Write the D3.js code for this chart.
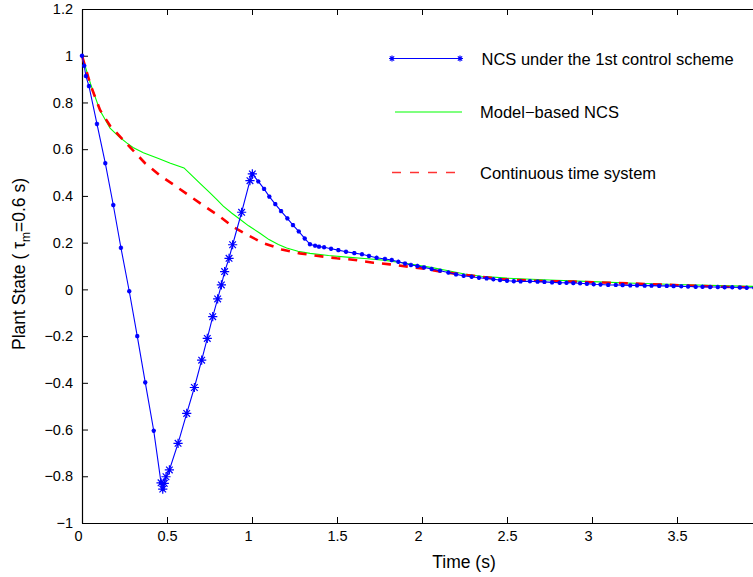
<!DOCTYPE html>
<html>
<head>
<meta charset="utf-8">
<script src="https://cdn.jsdelivr.net/npm/d3@7"></script>
<style>
  html, body { margin: 0; padding: 0; background: #fff; }
  svg { display: block; font-family: "Liberation Sans", Arial, Helvetica, sans-serif; }
</style>
</head>
<body>
<svg id="chart" width="753" height="577"></svg>
<script>
// Axis ticks
const xTicks = [0, 0.5, 1, 1.5, 2, 2.5, 3, 3.5, 4];
const xTickLabels = ["0", "0.5", "1", "1.5", "2", "2.5", "3", "3.5", "4"];
const yTicks = [-1, -0.8, -0.6, -0.4, -0.2, 0, 0.2, 0.4, 0.6, 0.8, 1, 1.2];
const yTickLabels = ["\u22121", "\u22120.8", "\u22120.6", "\u22120.4", "\u22120.2", "0", "0.2", "0.4", "0.6", "0.8", "1", "1.2"];

// NCS under the 1st control scheme: [time, state]
// falling part (plant runs open loop while waiting for the delayed control)
const ncsFall = [
  [0, 1.0], [0.013, 0.957], [0.023, 0.913], [0.041, 0.870], [0.088, 0.708],
  [0.137, 0.540], [0.184, 0.361], [0.229, 0.178], [0.278, -0.008], [0.325, -0.200],
  [0.372, -0.398], [0.422, -0.605], [0.465, -0.828], [0.475, -0.855]
];
// recovering part
const ncsRise = [
  [0.465, -0.828], [0.475, -0.855], [0.484, -0.830], [0.494, -0.802], [0.514, -0.773],
  [0.565, -0.659], [0.616, -0.531], [0.661, -0.420], [0.704, -0.303], [0.737, -0.210],
  [0.769, -0.117], [0.798, -0.041], [0.820, 0.019], [0.839, 0.076], [0.865, 0.133],
  [0.886, 0.191], [0.939, 0.330], [0.988, 0.465], [1.002, 0.494]
];
// settling part
const ncsDecay = [
  [1.002, 0.494], [1.037, 0.462], [1.071, 0.430], [1.102, 0.397], [1.137, 0.365],
  [1.171, 0.335], [1.208, 0.304], [1.241, 0.275], [1.275, 0.248], [1.310, 0.218],
  [1.341, 0.193], [1.371, 0.187], [1.394, 0.183], [1.424, 0.180], [1.465, 0.174],
  [1.508, 0.168], [1.553, 0.161], [1.602, 0.155], [1.647, 0.150], [1.688, 0.143],
  [1.733, 0.135], [1.782, 0.130], [1.822, 0.126], [1.861, 0.118], [1.900, 0.111],
  [1.935, 0.104], [1.973, 0.100], [2.012, 0.094], [2.057, 0.087], [2.106, 0.080],
  [2.155, 0.072], [2.200, 0.064], [2.245, 0.058], [2.292, 0.054], [2.335, 0.050],
  [2.380, 0.047], [2.420, 0.043], [2.459, 0.040], [2.500, 0.037], [2.540, 0.035],
  [2.580, 0.034], [2.635, 0.035], [2.680, 0.033], [2.720, 0.032], [2.765, 0.030],
  [2.810, 0.028], [2.850, 0.028], [2.890, 0.027], [2.930, 0.026], [2.970, 0.024],
  [3.010, 0.022], [3.050, 0.021], [3.095, 0.019], [3.140, 0.019], [3.180, 0.018],
  [3.225, 0.017], [3.265, 0.017], [3.310, 0.016], [3.350, 0.016], [3.395, 0.015],
  [3.440, 0.015], [3.480, 0.014], [3.525, 0.013], [3.565, 0.012], [3.610, 0.011],
  [3.650, 0.011], [3.695, 0.010], [3.740, 0.010], [3.780, 0.009], [3.825, 0.009],
  [3.870, 0.008], [3.910, 0.007], [3.955, 0.007], [4.000, 0.006]
];

// Model-based NCS: [time, state]
const modelNcs = [
  [0, 1.0], [0.05, 0.880], [0.106, 0.765], [0.165, 0.690], [0.22, 0.652],
  [0.263, 0.627], [0.30, 0.607], [0.361, 0.585], [0.45, 0.560], [0.52, 0.540],
  [0.60, 0.520], [0.65, 0.485], [0.694, 0.454], [0.75, 0.415], [0.792, 0.385],
  [0.831, 0.356], [0.88, 0.327], [0.929, 0.300], [0.98, 0.272], [1.047, 0.240],
  [1.10, 0.213], [1.155, 0.192], [1.204, 0.177], [1.27, 0.163], [1.341, 0.154],
  [1.45, 0.145], [1.576, 0.137], [1.68, 0.131], [1.773, 0.125], [1.87, 0.115],
  [1.969, 0.104], [2.06, 0.093], [2.155, 0.080], [2.25, 0.066], [2.35, 0.056],
  [2.50, 0.048], [2.75, 0.040], [3.0, 0.033], [3.25, 0.026], [3.5, 0.021],
  [3.75, 0.016], [4.0, 0.012]
];

// Continuous time system: [time, state]
const continuous = [
  [0, 1.0], [0.05, 0.875], [0.106, 0.768], [0.165, 0.700], [0.247, 0.636],
  [0.30, 0.595], [0.371, 0.540], [0.459, 0.487], [0.547, 0.444], [0.635, 0.399],
  [0.724, 0.354], [0.812, 0.311], [0.890, 0.267], [0.978, 0.231], [1.063, 0.199],
  [1.175, 0.171], [1.282, 0.154], [1.390, 0.143], [1.498, 0.133], [1.606, 0.126],
  [1.714, 0.114], [1.812, 0.107], [1.920, 0.097], [2.027, 0.087], [2.135, 0.073],
  [2.341, 0.054], [2.459, 0.044], [2.674, 0.036], [2.890, 0.033], [3.106, 0.028],
  [3.322, 0.023], [3.538, 0.017], [3.753, 0.011], [4.0, 0.008]
];

const legendLabels = ["NCS under the 1st control scheme", "Model\u2212based NCS", "Continuous time system"];

const BLUE = "#0000ff", GREEN = "#00ff00", RED = "#ff0000";

const svg = d3.select("#chart");
const plot = { left: 82, right: 762, top: 9, bottom: 523 };

const x = d3.scaleLinear().domain([0, 4]).range([plot.left, plot.right]);
const y = d3.scaleLinear().domain([-1, 1.2]).range([plot.bottom, plot.top]);

svg.append("rect").attr("width", 753).attr("height", 577).attr("fill", "#fff");

// Axes (ticks point inward, box on all sides)
const axisStyle = g => {
  g.select(".domain").attr("stroke", "#000").attr("stroke-width", 1.2);
  g.selectAll(".tick line").attr("stroke", "#000").attr("stroke-width", 1);
  g.selectAll(".tick text").attr("fill", "#000").attr("font-size", "14.5px")
    .attr("font-family", "'Liberation Sans', Arial, sans-serif");
};

const xAxisG = svg.append("g")
  .attr("transform", `translate(0,${plot.bottom})`)
  .call(d3.axisBottom(x).tickValues(xTicks).tickSizeInner(-6).tickSizeOuter(0).tickPadding(8)
    .tickFormat((d, i) => xTickLabels[i]))
  .call(axisStyle);
// whole-number labels sit a little left of their ticks
xAxisG.selectAll(".tick text")
  .attr("dx", function () { return this.textContent.length === 1 ? -4 : 0; });

svg.append("g")
  .attr("transform", `translate(0,${plot.top})`)
  .call(d3.axisTop(x).tickValues(xTicks).tickSizeInner(-6).tickSizeOuter(0).tickFormat(""))
  .call(axisStyle);

svg.append("g")
  .attr("transform", `translate(${plot.left},0)`)
  .call(d3.axisLeft(y).tickValues(yTicks).tickSizeInner(-6).tickSizeOuter(0).tickPadding(9)
    .tickFormat((d, i) => yTickLabels[i]))
  .call(axisStyle);

svg.append("g")
  .attr("transform", `translate(${plot.right},0)`)
  .call(d3.axisRight(y).tickValues(yTicks).tickSizeInner(-6).tickSizeOuter(0).tickFormat(""))
  .call(axisStyle);

// Axis titles
svg.append("text")
  .attr("x", 464).attr("y", 567.5)
  .attr("text-anchor", "middle")
  .attr("font-size", "17.5px")
  .text("Time (s)");

const yTitle = svg.append("text")
  .attr("transform", "translate(25,264) rotate(-90)")
  .attr("text-anchor", "middle")
  .attr("font-size", "17.5px");
yTitle.append("tspan").text("Plant State ( \u03c4");
yTitle.append("tspan").attr("font-size", "12px").attr("dy", 5).text("m");
yTitle.append("tspan").attr("dy", -5).text("=0.6 s)");

// Curves
const line = d3.line().x(d => x(d[0])).y(d => y(d[1]));
const curves = svg.append("g");

curves.append("path").datum(modelNcs)
  .attr("d", line).attr("fill", "none").attr("stroke", GREEN).attr("stroke-width", 1.1);

curves.append("path").datum(continuous)
  .attr("d", line).attr("fill", "none").attr("stroke", RED).attr("stroke-width", 2.6)
  .attr("stroke-dasharray", "9,8");

const ncsAll = ncsFall.concat(ncsRise.slice(2), ncsDecay.slice(1));
curves.append("path").datum(ncsAll)
  .attr("d", line).attr("fill", "none").attr("stroke", BLUE).attr("stroke-width", 1.1);

// Asterisk marker path of half-size s
function asterisk(s) {
  const a = s * 0.72;
  return `M${-s},0H${s}M0,${-s}V${s}M${-a},${-a}L${a},${a}M${-a},${a}L${a},${-a}`;
}

curves.append("g").selectAll("path")
  .data(ncsFall.concat(ncsDecay))
  .join("path")
  .attr("transform", d => `translate(${x(d[0])},${y(d[1])})`)
  .attr("d", asterisk(2.2))
  .attr("fill", "none").attr("stroke", BLUE).attr("stroke-width", 1.3);

curves.append("g").selectAll("path")
  .data(ncsRise)
  .join("path")
  .attr("transform", d => `translate(${x(d[0])},${y(d[1])})`)
  .attr("d", asterisk(4.6))
  .attr("fill", "none").attr("stroke", BLUE).attr("stroke-width", 1.2);

// Legend
const legend = svg.append("g").attr("font-size", "16.5px");
const legendY = [58.5, 112, 172.5];

legend.append("line").attr("x1", 392).attr("x2", 460).attr("y1", legendY[0]).attr("y2", legendY[0])
  .attr("stroke", BLUE).attr("stroke-width", 1.1);
[392, 460].forEach(px => legend.append("path")
  .attr("transform", `translate(${px},${legendY[0]})`)
  .attr("d", asterisk(3)).attr("fill", "none").attr("stroke", BLUE).attr("stroke-width", 1.2));

legend.append("line").attr("x1", 395).attr("x2", 462).attr("y1", legendY[1]).attr("y2", legendY[1])
  .attr("stroke", GREEN).attr("stroke-width", 1.1);

legend.append("line").attr("x1", 392).attr("x2", 456).attr("y1", legendY[2]).attr("y2", legendY[2])
  .attr("stroke", RED).attr("stroke-width", 1.3).attr("stroke-opacity", 0.8)
  .attr("stroke-dasharray", "9,9");

legend.selectAll("text.lbl")
  .data(legendLabels)
  .join("text")
  .attr("class", "lbl")
  .attr("x", (d, i) => i === 0 ? 481.5 : 480)
  .attr("y", (d, i) => legendY[i] + 2)
  .attr("dominant-baseline", "middle")
  .text(d => d);
</script>
</body>
</html>
